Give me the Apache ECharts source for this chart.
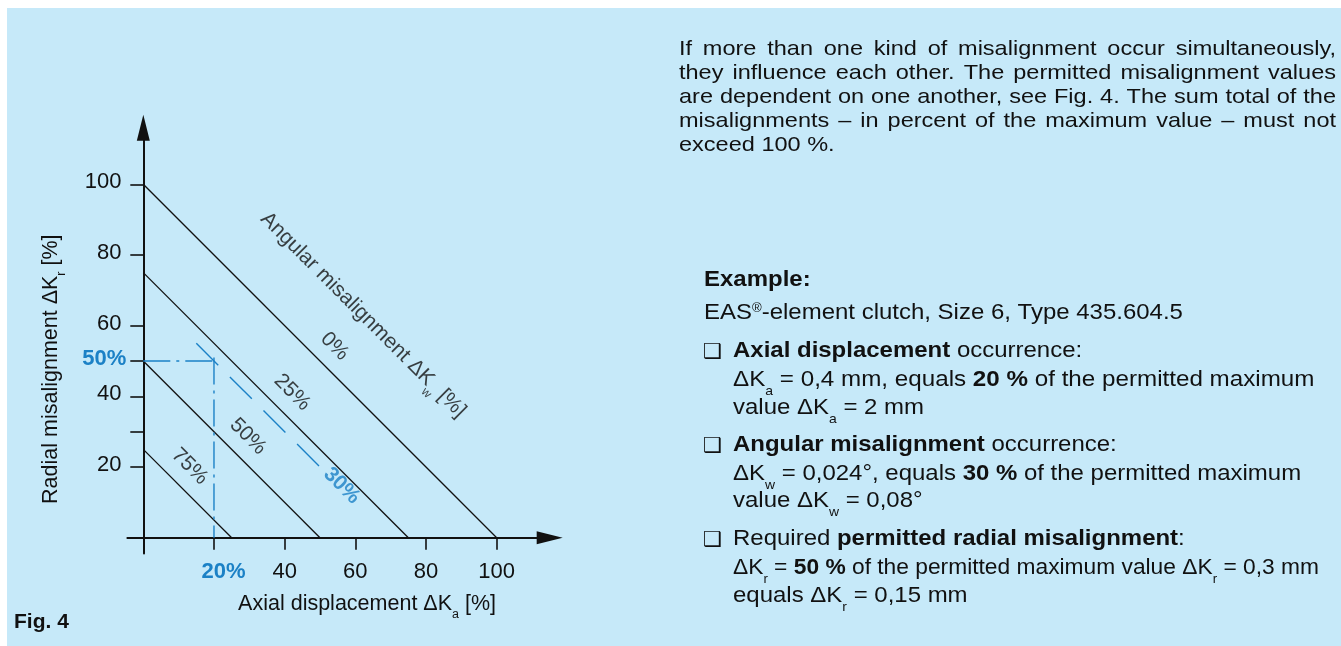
<!DOCTYPE html>
<html>
<head>
<meta charset="utf-8">
<script src="https://cdn.jsdelivr.net/npm/echarts@6/dist/echarts.min.js"></script>
<style>
  html, body { margin: 0; padding: 0; background: #ffffff; }
  #chart { width: 1341px; height: 646px; }
</style>
</head>
<body>
<div id="chart"></div>
<script>
// ---- Data -------------------------------------------------------------
// Permitted-misalignment lines: radial + axial (in %) for each angular share
const angularShares = ['0%', '25%', '50%', '75%'];
const lineTotals = [100, 75, 50, 25];
// Axis ticks and labels
const xLabelValues = [20, 40, 60, 80, 100];
const xTickValues = [0, 20, 40, 60, 80, 100];
const yLabelValues = [20, 40, 50, 60, 80, 100];
const yTickValues = [0, 20, 30, 40, 50, 60, 80, 100];
// Worked example: axial 20 %, angular 30 % -> radial 50 %
const exampleAxial = 20;
const exampleAngular = 30;
const exampleRadial = 50;

// Text beside the diagram
const introLines = [
  'If more than one kind of misalignment occur simultaneously,',
  'they influence each other. The permitted misalignment values',
  'are dependent on one another, see Fig. 4. The sum total of the',
  'misalignments \u2013 in percent of the maximum value \u2013 must not',
  'exceed 100 %.'
];
const exampleHead = '{b|Example:}';
const exampleSub = '{m|EAS}{sup|\u00ae}{m|-element clutch, Size 6, Type 435.604.5}';
const exampleItems = [
  ['{b|Axial displacement}{m| occurrence:}',
   '{m|\u0394K}{s|a}{m| = 0,4 mm, equals }{b|20 %}{m| of the permitted maximum}',
   '{m|value \u0394K}{s|a}{m| = 2 mm}'],
  ['{b|Angular misalignment}{m| occurrence:}',
   '{m|\u0394K}{s|w}{m| = 0,024\u00b0, equals }{b|30 %}{m| of the permitted maximum}',
   '{m|value \u0394K}{s|w}{m| = 0,08\u00b0}'],
  ['{m|Required }{b|permitted radial misalignment}{m|:}',
   '{m|\u0394K}{s|r}{m| = }{b|50 %}{m| of the permitted maximum value \u0394K}{s|r}{m| = 0,3 mm}',
   '{m|equals \u0394K}{s|r}{m| = 0,15 mm}']
];

// ---- Styling ----------------------------------------------------------
const FONT = '"Liberation Sans", Arial, Helvetica, sans-serif';
const INK = '#111111';
const BLUE = '#1b81c6';
const PANEL = '#c6e9f9';
const TICK_FS = 22;
const NAME_FS = 21.5;

function richSet(fs, color) {
  const base = { fontFamily: FONT, color: color, fill: color, verticalAlign: 'top' };
  return {
    m: Object.assign({}, base, { fontSize: fs, lineHeight: fs * 1.2 }),
    b: Object.assign({}, base, { fontSize: fs, lineHeight: fs * 1.2, fontWeight: 'bold' }),
    s: Object.assign({}, base, { fontSize: fs * 0.58, lineHeight: fs * 0.7, padding: [fs * 0.72, 0, 0, 0] }),
    sup: Object.assign({}, base, { fontSize: fs * 0.55, lineHeight: fs * 0.66, padding: [fs * 0.05, 0, 0, 0] }),
    hb: Object.assign({}, base, { fontSize: fs, lineHeight: fs * 1.2, fontWeight: 'bold', color: BLUE, fill: BLUE })
  };
}

const tickRich = richSet(TICK_FS, INK);
const nameRich = richSet(NAME_FS, INK);
const markRich = richSet(21, INK);
// blue "20%" keeps its digits centred under the tick
const xRich = Object.assign({}, tickRich, {
  hb: Object.assign({}, tickRich.hb, { padding: [0, 0, 0, 19] })
});
const yRich = Object.assign({}, tickRich, {
  m: Object.assign({}, tickRich.m, { padding: [0, 5, 0, 0] })
});

// ---- Series -----------------------------------------------------------
const series = [];

angularShares.forEach(function (name, i) {
  const t = lineTotals[i];
  series.push({
    type: 'line', name: name, silent: true, symbol: 'none',
    data: [[0, t], [t, 0]],
    lineStyle: { color: INK, width: 1.3 },
    z: 3
  });
});

// example: constant-angular line (sum = 100 - angular share)
const exampleSum = 100 - exampleAngular;
series.push({
  type: 'line', silent: true, symbol: 'none',
  data: [[15, exampleSum - 15], [50, exampleSum - 50]],
  lineStyle: { color: BLUE, width: 1.4, type: [31, 16.5] },
  z: 4
});
// example: reading guides (dash-dot)
series.push({
  type: 'line', silent: true, symbol: 'none',
  data: [[0, exampleRadial], [exampleAxial + 1, exampleRadial]],
  lineStyle: { color: BLUE, width: 1.4, type: [27, 6, 3, 6] },
  z: 4
});
series.push({
  type: 'line', silent: true, symbol: 'none',
  data: [[exampleAxial, exampleRadial + 1], [exampleAxial, 0]],
  lineStyle: { color: BLUE, width: 1.4, type: [27, 6, 3, 6] },
  z: 4
});

// labels written along the lines
const along = [50, 38, 25.5, 9];
const off = 3.7;
const lineLabelData = angularShares.map(function (name, i) {
  const t = along[i];
  return { value: [t + off, lineTotals[i] - t + off], name: '{m|' + name + '}' };
});
lineLabelData.push({ value: [55.7, exampleSum - 55.7], name: '{hb|' + exampleAngular + '%}' });
lineLabelData.push({ value: [49.6 + 12.2, 100 - 49.6 + 12.2], name: '{m|Angular misalignment \u0394K}{s|w}{m| [%]}' });

series.push({
  type: 'scatter', silent: true, symbolSize: 0,
  data: lineLabelData,
  label: {
    show: true, position: 'inside', rotate: -45,
    formatter: function (p) { return p.name; },
    rich: markRich, color: INK, fontSize: 21, fontFamily: FONT
  },
  z: 5
});

// ---- Side text (graphic) ------------------------------------------------
const measureCtx = document.createElement('canvas').getContext('2d');
function textWidth(str, fs, weight) {
  measureCtx.font = (weight || 'normal') + ' ' + fs + 'px ' + FONT;
  return measureCtx.measureText(str).width;
}

const graphics = [];
graphics.push({
  type: 'rect', silent: true, z: -10,
  shape: { x: 7, y: 8, width: 1341 - 7, height: 646 - 8 },
  style: { fill: PANEL }
});

function textAt(x, cy, text, fs, rich, sx) {
  graphics.push({
    type: 'text', silent: true, x: x, y: cy - fs * 0.6,
    scaleX: sx || 1,
    style: {
      text: text, rich: rich, fill: INK, fontSize: fs, fontFamily: FONT,
      verticalAlign: 'top', align: 'left'
    }
  });
}

// intro paragraph, justified
const introFS = 21, introSX = 1.12;
const introLeft = 679, introRight = 1336, introY0 = 51, introStep = 24;
const introRich = richSet(introFS, INK);
introLines.forEach(function (line, i) {
  const cy = introY0 + i * introStep;
  if (i === introLines.length - 1) { textAt(introLeft, cy, '{m|' + line + '}', introFS, introRich, introSX); return; }
  const words = line.split(' ');
  const widths = words.map(function (w) { return textWidth(w, introFS) * introSX; });
  const total = widths.reduce(function (a, b) { return a + b; }, 0);
  const gap = (introRight - introLeft - total) / (words.length - 1);
  let x = introLeft;
  words.forEach(function (w, k) {
    textAt(x, cy, '{m|' + w + '}', introFS, introRich, introSX);
    x += widths[k] + gap;
  });
});

// example block
const exFS = 22, exSX = 1.09;
const exRich = richSet(exFS, INK);
textAt(704, 282, exampleHead, exFS, exRich, exSX);
textAt(704, 315, exampleSub, exFS, exRich, exSX);
const itemRows = [[353, 382, 410], [447, 476, 503], [541, 570, 598]];
const itemSX = [[1.09, 1.1, 1.09], [1.09, 1.09, 1.09], [1.09, 1.035, 1.09]];
exampleItems.forEach(function (item, i) {
  graphics.push({
    type: 'text', silent: true, x: 703, y: itemRows[i][0],
    style: { text: '\u2751', fill: INK, fontSize: 21, fontFamily: '"DejaVu Sans"', verticalAlign: 'middle', align: 'left' }
  });
  item.forEach(function (line, k) {
    textAt(733, itemRows[i][k], line, exFS, exRich, itemSX[i][k]);
  });
});

// figure caption
textAt(14, 624.5, '{b|Fig. 4}', 21, richSet(21, INK));

// ---- Chart --------------------------------------------------------------
const K = 3.534;            // pixels per percent
const ORIGIN = [143.3, 537.7];
const X_MIN = -4.5, X_MAX = 115, Y_MIN = -4.5, Y_MAX = 116;

const chart = echarts.init(document.getElementById('chart'), null, { renderer: 'canvas' });
chart.setOption({
  animation: false,
  backgroundColor: '#ffffff',
  textStyle: { fontFamily: FONT, color: INK },
  grid: {
    left: ORIGIN[0] + X_MIN * K,
    top: ORIGIN[1] - Y_MAX * K,
    width: (X_MAX - X_MIN) * K,
    height: (Y_MAX - Y_MIN) * K,
    containLabel: false
  },
  xAxis: {
    type: 'value', min: X_MIN, max: X_MAX,
    splitLine: { show: false },
    axisLine: {
      onZero: true, symbol: ['none', 'triangle'], symbolSize: [13, 26],
      lineStyle: { color: INK, width: 2 }
    },
    axisTick: { show: true, customValues: xTickValues, length: 12, lineStyle: { color: INK, width: 1.6 } },
    axisLabel: {
      customValues: xLabelValues, margin: 7.5, rich: xRich,
      formatter: function (v) { return v === exampleAxial ? '{hb|' + v + '%}' : '{m|' + v + '}'; }
    },
    name: '{m|Axial displacement \u0394K}{s|a}{m| [%]}',
    nameLocation: 'middle', nameGap: 39,
    nameTextStyle: { rich: nameRich, padding: [0, 0, 0, 57] }
  },
  yAxis: {
    type: 'value', min: Y_MIN, max: Y_MAX,
    splitLine: { show: false },
    axisLine: {
      onZero: true, symbol: ['none', 'triangle'], symbolSize: [13, 26],
      lineStyle: { color: INK, width: 2 }
    },
    axisTick: { show: true, customValues: yTickValues, length: 13, lineStyle: { color: INK, width: 1.6 } },
    axisLabel: {
      customValues: yLabelValues, margin: 1, rich: yRich,
      formatter: function (v) { return v === exampleRadial ? '{hb|' + v + '%}' : '{m|' + v + '}'; }
    },
    name: '{m|Radial misalignment \u0394K}{s|r}{m| [%]}',
    nameLocation: 'middle', nameRotate: 90, nameGap: 62,
    nameTextStyle: { rich: nameRich, padding: [0, 57, 0, 0] }
  },
  graphic: { elements: graphics },
  series: series
});
</script>
</body>
</html>
